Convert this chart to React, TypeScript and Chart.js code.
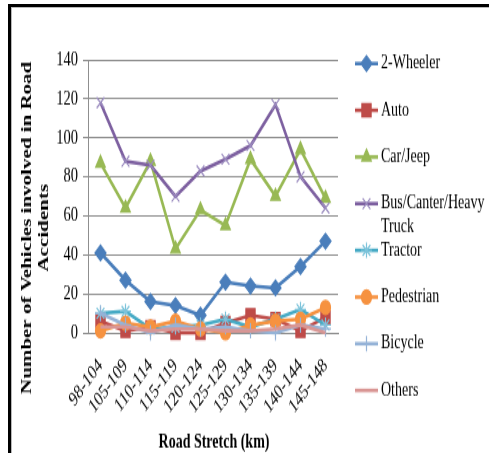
import { useEffect, useRef } from 'react';
import { Chart, registerables, PointElement } from 'chart.js';

Chart.register(...registerables);

// Road stretches (km) along the highway
const stretches = ['98-104', '105-109', '110-114', '115-119', '120-124', '125-129', '130-134', '135-139', '140-144', '145-148'];

// Number of vehicles involved in road accidents per stretch
const twoWheeler = [41, 27, 16, 14, 9, 26, 24, 23, 34, 47];
const auto = [6, 1, 3, 0, 0, 5, 9, 7, 1, 8];
const carJeep = [87, 64, 88, 43, 63, 55, 89, 70, 94, 69];
const busTruck = [118, 88, 86, 70, 83, 89, 96, 117, 80, 64];
const tractor = [10, 11, 2, 3, 4, 7, 3, 7, 12, 4];
const pedestrian = [1, 5, 3, 6, 2, 0, 4, 6, 7, 13];
const bicycle = [10, 4, 0, 4, 2, 3, 1, 0, 4, 2];
const others = [3, 3, 1, 2, 2, 1, 1, 2, 4, 0];

const yMin = 0;
const yMax = 140;
const yStep = 20;

const yTitleLines = ['Number of Vehicles involved in Road', 'Accidents'];
const xTitle = 'Road Stretch (km)';

const serif = '"Liberation Serif", "Times New Roman", serif';

// canvas is drawn at reduced height and stretched vertically on the page
const CANVAS_W = 477;
const CANVAS_H = 318;
const STRETCH = 1.4;

function series(label: string, data: number[], color: string, pointStyle: any, radius: number, fill: string, index: number) {
  return {
    label,
    data,
    borderColor: color,
    backgroundColor: fill,
    borderWidth: 2.6,
    tension: 0,
    pointStyle,
    pointRadius: radius,
    pointBorderColor: pointStyle === 'crossRot' || pointStyle === 'star' || pointStyle === 'cross' ? fill : color,
    pointBackgroundColor: fill,
    pointBorderWidth: 1.2,
    clip: false as const,
    order: 8 - index,
  };
}

function wrapText(ctx: CanvasRenderingContext2D, text: string, maxWidth: number) {
  const words = text.split(' ');
  const lines: string[] = [];
  let cur = '';
  for (const w of words) {
    const test = cur ? cur + ' ' + w : w;
    if (cur && ctx.measureText(test).width > maxWidth) {
      lines.push(cur);
      cur = w;
    } else {
      cur = test;
    }
  }
  if (cur) lines.push(cur);
  return lines;
}

// Axis titles and the right-hand legend (line + marker + wrapped label)
const decorations = {
  id: 'decorations',
  afterDraw(chart: any) {
    const { ctx, chartArea } = chart;

    // y-axis title, two rotated lines
    ctx.save();
    ctx.fillStyle = '#000';
    ctx.font = `bold 15px ${serif}`;
    ctx.textAlign = 'center';
    ctx.textBaseline = 'middle';
    ctx.translate(15, 157);
    ctx.rotate(-Math.PI / 2);
    ctx.fillText(yTitleLines[0], 0, 0);
    ctx.fillText(yTitleLines[1], 0, 17);
    ctx.restore();

    // x-axis title
    ctx.save();
    ctx.fillStyle = '#000';
    ctx.font = `bold 14px ${serif}`;
    ctx.textAlign = 'center';
    ctx.textBaseline = 'middle';
    ctx.fillText(xTitle, (chartArea.left + chartArea.right) / 2 + 1, 310.5);
    ctx.restore();

    // legend
    const lx = 343;
    const lineLen = 23;
    const top = 39.7;
    const step = 33.35;
    chart.data.datasets.forEach((ds: any, i: number) => {
      const y = top + i * step;
      ctx.save();
      ctx.strokeStyle = ds.borderColor;
      ctx.lineWidth = ds.borderWidth;
      ctx.beginPath();
      ctx.moveTo(lx, y);
      ctx.lineTo(lx + lineLen, y);
      ctx.stroke();
      const el = chart.getDatasetMeta(i).data[0];
      if (el && el.options && el.options.radius > 0) {
        const p = new PointElement({ x: lx + lineLen / 2, y, options: el.options } as any);
        p.draw(ctx);
      }
      ctx.fillStyle = '#000';
      ctx.font = `14px ${serif}`;
      ctx.textAlign = 'left';
      ctx.textBaseline = 'middle';
      const lines = wrapText(ctx, ds.label, 108);
      lines.forEach((t, k) => ctx.fillText(t, lx + lineLen + 3, y + k * 16.4));
      ctx.restore();
    });
  },
};

export default function App() {
  const ref = useRef<HTMLCanvasElement>(null);

  useEffect(() => {
    const canvas = ref.current;
    if (!canvas) return;
    const grid = '#8f8f8f';
    const chart = new Chart(canvas, {
      type: 'line',
      data: {
        labels: stretches,
        datasets: [
          series('2-Wheeler', twoWheeler, '#4A7EBB', 'rectRot', 5.5, '#4A7EBB', 0),
          series('Auto', auto, '#BE4B48', 'rect', 6.5, '#BE4B48', 1),
          series('Car/Jeep', carJeep, '#98B954', 'triangle', 5.5, '#98B954', 2),
          series('Bus/Canter/Heavy Truck', busTruck, '#7D60A0', 'crossRot', 5.5, '#9C8DC0', 3),
          series('Tractor', tractor, '#46AAC5', 'star', 5.5, '#7CC3DA', 4),
          series('Pedestrian', pedestrian, '#F69240', 'circle', 5, '#F69240', 5),
          series('Bicycle', bicycle, '#95B3D7', 'cross', 5.5, '#95B3D7', 6),
          series('Others', others, '#D99694', 'circle', 0, '#D99694', 7),
        ],
      },
      options: {
        responsive: false,
        animation: false,
        devicePixelRatio: 1,
        layout: { padding: { top: 37, right: 151, left: 0, bottom: 0 } },
        plugins: {
          legend: { display: false },
          tooltip: { enabled: false },
          title: { display: false },
        },
        scales: {
          x: {
            offset: true,
            grid: { display: false, drawTicks: false },
            border: { display: true, color: grid, width: 1 },
            ticks: {
              autoSkip: false,
              minRotation: 45,
              maxRotation: 45,
              padding: 15,
              color: '#000',
              font: { family: serif, size: 14.5 },
            },
            afterFit: (s: any) => {
              s.height = CANVAS_H - 232;
            },
          },
          y: {
            min: yMin,
            max: yMax,
            ticks: {
              stepSize: yStep,
              padding: 5,
              color: '#000',
              font: { family: serif, size: 14.5 },
            },
            grid: { color: grid, lineWidth: 1, tickLength: 5, drawTicks: true },
            border: { display: true, color: grid, width: 1 },
            afterFit: (s: any) => {
              s.width = 76;
            },
          },
        },
      },
      plugins: [decorations],
    } as any);
    return () => chart.destroy();
  }, []);

  return (
    <div
      style={{
        position: 'fixed',
        left: 0,
        top: 0,
        width: 489,
        height: 453,
        background: '#fff',
        overflow: 'hidden',
      }}
    >
      <div
        style={{
          position: 'absolute',
          left: 8,
          top: 4,
          right: 0,
          bottom: 0,
          borderTop: '3px solid #000',
          borderLeft: '3px solid #000',
        }}
      >
        <div
          style={{
            position: 'absolute',
            left: 0,
            top: 0,
            right: 0,
            bottom: 0,
            borderTop: '1px solid #b8b8b8',
            borderLeft: '1px solid #b8b8b8',
          }}
        />
      </div>
      <canvas
        ref={ref}
        width={CANVAS_W}
        height={CANVAS_H}
        style={{
          position: 'absolute',
          left: 12,
          top: 8,
          width: CANVAS_W,
          height: CANVAS_H,
          transform: `scaleY(${STRETCH})`,
          transformOrigin: '0 0',
        }}
      />
    </div>
  );
}
